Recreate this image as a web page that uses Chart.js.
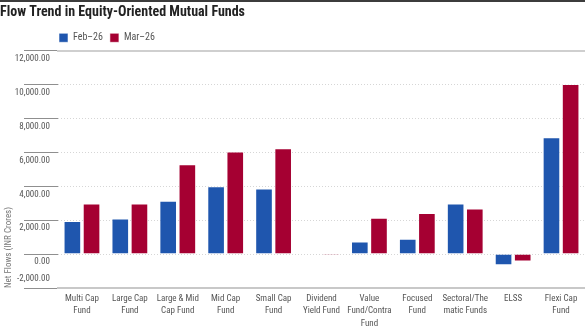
<!DOCTYPE html>
<html>
<head>
<meta charset="utf-8">
<script src="https://cdn.jsdelivr.net/npm/chart.js@4.4.1/dist/chart.umd.min.js"></script>
<style>
  html, body { margin: 0; padding: 0; background: #fff; }
  #rule { width: 585px; height: 2px; background: #3c3c3c; }
  #wrap { width: 585px; height: 327px; position: relative; }
</style>
</head>
<body>
<div id="rule"></div>
<div id="wrap"><canvas id="c" width="585" height="327"></canvas></div>
<script>
// Net flows by fund category (INR crores)
const categories = [
  ['Multi Cap', 'Fund'],
  ['Large Cap', 'Fund'],
  ['Large & Mid', 'Cap Fund'],
  ['Mid Cap', 'Fund'],
  ['Small Cap', 'Fund'],
  ['Dividend', 'Yield Fund'],
  ['Value', 'Fund/Contra', 'Fund'],
  ['Focused', 'Fund'],
  ['Sectoral/The', 'matic Funds'],
  'ELSS',
  ['Flexi Cap', 'Fund']
];
const seriesNames = ['Feb–26', 'Mar–26'];
const feb26 = [1950, 2100, 3150, 4000, 3880, 40, 750, 900, 2980, -650, 6900];
const mar26 = [2990, 2990, 5300, 6050, 6250, -60, 2150, 2420, 2690, -430, 10040];
const yTicks = [-2000, 0, 2000, 4000, 6000, 8000, 10000, 12000];

const FONT = "'Roboto Condensed', 'Roboto', sans-serif";
const fmt = v => v.toLocaleString('en-US', { minimumFractionDigits: 2, maximumFractionDigits: 2 });

// place the legend just right of the plot's left edge, and give the
// secondary label axis the same band as the main value axis
const placement = {
  id: 'placement',
  afterLayout(chart) {
    const area = chart.chartArea;
    if (chart.legend) {
      chart.legend.left = area.left - 6;
      chart.legend.top += 4;
    }
    const low = chart.scales.yLow;
    if (low) { low.left = 0; low.right = area.left; }
  }
};

new Chart(document.getElementById('c'), {
  type: 'bar',
  data: {
    labels: categories,
    datasets: [
      { label: seriesNames[0], data: feb26, backgroundColor: '#1f56ae',
        borderColor: 'rgba(255,255,255,0.55)', borderWidth: 1 },
      { label: seriesNames[1], data: mar26, backgroundColor: '#a50032',
        borderColor: 'rgba(255,255,255,0.55)', borderWidth: 1 }
    ]
  },
  plugins: [placement],
  options: {
    responsive: false,
    animation: false,
    layout: { padding: 0 },
    datasets: { bar: { categoryPercentage: 0.8, barPercentage: 0.92 } },
    plugins: {
      title: {
        display: true,
        text: 'Flow Trend in Equity-Oriented Mutual Funds',
        align: 'start',
        color: '#222',
        font: { family: FONT, size: 14, weight: 'bold' },
        padding: { top: 2, bottom: 1 }
      },
      legend: {
        display: true,
        position: 'top',
        align: 'start',
        fullSize: false,
        labels: {
          boxWidth: 9, boxHeight: 9, padding: 7,
          color: '#555',
          font: { family: FONT, size: 10 }
        }
      },
      tooltip: { enabled: false }
    },
    scales: {
      x: {
        position: 'bottom',
        grid: { display: false, drawTicks: false },
        border: { display: true, color: '#c8c8c8', width: 2 },
        ticks: {
          autoSkip: false, maxRotation: 0, minRotation: 0,
          padding: 4, color: '#555',
          font: { family: FONT, size: 9, lineHeight: 1.4 }
        },
        afterFit(s) { s.height = 41; }
      },
      xTop: {
        type: 'category',
        position: 'top',
        grid: { display: false, drawTicks: false },
        ticks: { display: false },
        border: { display: true, color: '#cfcfcf', width: 2 },
        afterFit(s) { s.height = 2; }
      },
      y: {
        position: 'left',
        min: -2000, max: 12000,
        afterBuildTicks(s) { s.ticks = yTicks.map(v => ({ value: v })); },
        grid: {
          color: '#d6d6d6', lineWidth: 1,
          drawTicks: true, tickLength: 42,
          tickColor: '#8f8f8f', tickWidth: 1,
          tickBorderDash: [34, 8], tickBorderDashOffset: 34
        },
        border: { display: false, dash: [1, 2] },
        ticks: {
          padding: -34, labelOffset: 8, color: '#555',
          font: { family: FONT, size: 9 },
          callback: v => (v === -2000 ? '' : fmt(v))
        },
        title: {
          display: true, text: 'Net Flows (INR Crores)', align: 'start',
          color: '#777', font: { family: FONT, size: 9 },
          padding: { top: 3, bottom: 0 }
        },
        afterFit(s) { s.width = 58; }
      },
      yLow: {
        position: 'left',
        min: -2000, max: 12000,
        afterBuildTicks(s) { s.ticks = yTicks.map(v => ({ value: v })); },
        grid: { display: false, drawTicks: false },
        border: { display: false },
        ticks: {
          padding: 8, labelOffset: -9, color: '#555',
          font: { family: FONT, size: 9 },
          callback: v => (v === -2000 ? fmt(v) : '')
        },
        afterFit(s) { s.width = 0; }
      }
    }
  }
});
</script>
</body>
</html>
